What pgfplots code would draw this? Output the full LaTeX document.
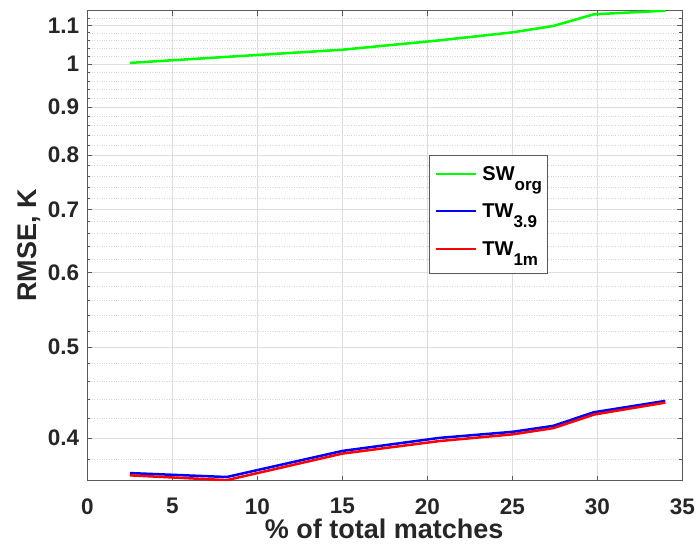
\documentclass[border=0pt]{standalone}
\usepackage{pgfplots}
\pgfplotsset{compat=1.18}
\usepackage{fontspec}
\setmainfont{Liberation Sans}
\definecolor{txt}{RGB}{38,38,38}
\definecolor{axc}{RGB}{90,90,90}
\definecolor{cgreen}{RGB}{0,255,0}
\definecolor{cblue}{RGB}{0,0,255}
\definecolor{cred}{RGB}{255,0,0}
\newcommand{\sub}[1]{\raisebox{-10pt}{\fontsize{17}{17}\selectfont #1}\hspace{6pt}}
\begin{document}
\begin{tikzpicture}
\useasboundingbox (-87.3pt,-64.3pt) rectangle (610.7pt,480.7pt);
\begin{axis}[
  scale only axis, width=595pt, height=470pt,
  at={(0pt,0pt)}, anchor=south west,
  xmin=0, xmax=35, ymin=0.3602, ymax=1.14, ymode=log,
  xtick={0,5,...,35},
  ytick={0.4,0.5,0.6,0.7,0.8,0.9,1,1.1},
  yticklabels={0.4,0.5,0.6,0.7,0.8,0.9,1,1.1},
  minor ytick={0.38,0.42,0.44,0.46,0.48,0.52,0.54,0.56,0.58,0.62,0.64,0.66,0.68,0.72,0.74,0.76,0.78,0.82,0.84,0.86,0.88,0.92,0.94,0.96,0.98,1.02,1.04,1.06,1.08,1.12},
  grid=both,
  major grid style={black!13, line width=0.6pt},
  minor grid style={black!16, dotted, line width=0.5pt},
  tick align=inside,
  major tick length=5pt, minor tick length=3pt,
  axis line style={axc, line width=0.8pt},
  every tick/.style={axc, line width=0.6pt},
  /pgf/number format/assume math mode=true,
  ticklabel style={font=\fontsize{22.5}{24}\selectfont\bfseries, text=txt},
  xticklabel style={inner sep=0pt, anchor=north, yshift=-17.6pt},
  yticklabel style={inner sep=0pt, anchor=east, xshift=-8pt},
  xlabel={\% of total matches},
  ylabel={RMSE, K},
  label style={font=\fontsize{27}{29}\selectfont\bfseries, text=txt},
  xlabel style={at={(axis description cs:0.499,-0.124)}, anchor=base},
  ylabel style={at={(axis description cs:-0.085,0.5)}, anchor=base, rotate=0},
  legend style={at={(axis description cs:0.575,0.693)}, anchor=north west,
    draw=axc, line width=0.6pt, fill=white, inner xsep=5.7pt, inner ysep=3pt,
    font=\fontsize{20}{22}\selectfont\bfseries,
    nodes={inner sep=0pt, text height=22pt, text depth=15.5pt},
    column sep=5pt},
  legend cell align=left,
  legend image code/.code={\draw[#1, line width=2pt] (0pt,3.3pt) -- (40pt,3.3pt);},
]
\addplot[cgreen, line width=2.5pt] coordinates {
 (2.5,1.003) (8.2,1.018) (15,1.036) (20.7,1.060) (25,1.081) (27.4,1.098) (29.8,1.130) (34,1.140)};
\addlegendentry{SW\sub{org}}
\addplot[cblue, line width=2.5pt] coordinates {
 (2.5,0.367) (8.2,0.3635) (15,0.3875) (20.7,0.400) (25,0.406) (27.4,0.412) (29.8,0.426) (34,0.438)};
\addlegendentry{TW\sub{3.9}}
\addplot[cred, line width=2.5pt] coordinates {
 (2.5,0.365) (8.2,0.3607) (15,0.385) (20.7,0.397) (25,0.4035) (27.4,0.4097) (29.8,0.4236) (34,0.4362)};
\addlegendentry{TW\sub{1m}}
\end{axis}
\end{tikzpicture}
\end{document}
